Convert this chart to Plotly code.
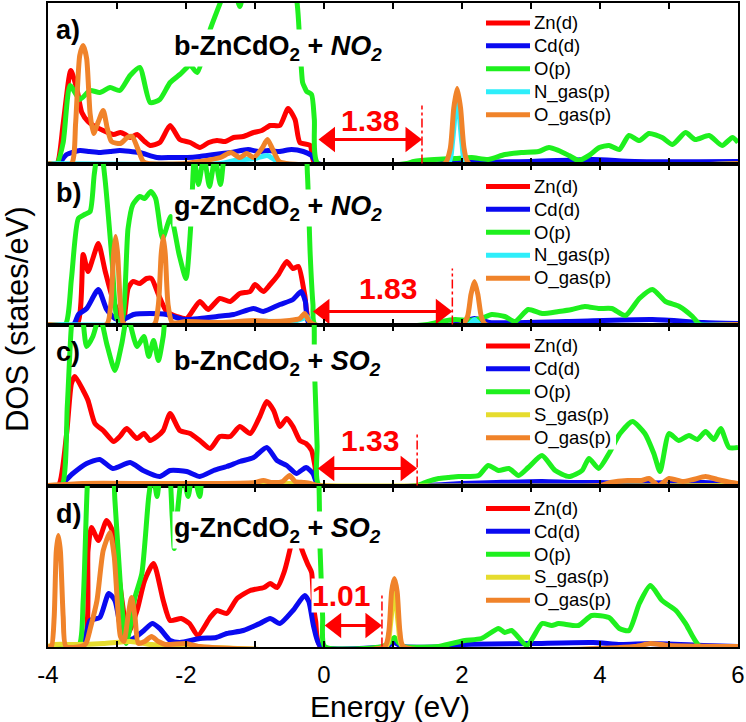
import plotly.graph_objects as go
from plotly.subplots import make_subplots

FONT = "Arial, Liberation Sans, sans-serif"

# ---------------- data (energy in eV, DOS in arbitrary units) ----------------
ENERGY_RANGE = [-4, 6]
TICK_VALUES = [-4, -2, 0, 2, 4, 6]
TICK_TEXT = ["-4", "-2", "0", "2", "4", "6"]

PANEL_LABELS = ["a)", "b)", "c)", "d)"]
PANEL_TITLES = [
    "b-ZnCdO<sub>2</sub> + <i>NO<sub>2</sub></i>",
    "g-ZnCdO<sub>2</sub> + <i>NO<sub>2</sub></i>",
    "b-ZnCdO<sub>2</sub> + <i>SO<sub>2</sub></i>",
    "g-ZnCdO<sub>2</sub> + <i>SO<sub>2</sub></i>",
]
GAP_VALUES = [1.38, 1.83, 1.33, 1.01]
GAP_START = [-0.08, -0.16, -0.09, 0.01]
GAP_END = [1.42, 1.86, 1.35, 0.84]

SERIES_NAMES_NO2 = ["Zn(d)", "Cd(d)", "O(p)", "N_gas(p)", "O_gas(p)"]
SERIES_NAMES_SO2 = ["Zn(d)", "Cd(d)", "O(p)", "S_gas(p)", "O_gas(p)"]

# panel a : b-ZnCdO2 + NO2
a_zn = [[-4.0,0],[-3.87,0],[-3.78,40],[-3.67,93],[-3.58,74],[-3.51,51],[-3.42,42],[-3.34,38],[-3.2,33],[-3.05,29],[-2.95,31],[-2.88,29],[-2.81,26],[-2.71,29],[-2.6,22],[-2.52,18],[-2.38,21],[-2.23,38],[-2.09,24],[-1.94,21],[-1.8,16],[-1.67,21],[-1.55,23],[-1.43,22],[-1.31,26],[-1.17,27],[-1.02,31],[-0.9,33],[-0.78,38],[-0.64,38],[-0.52,55],[-0.42,44],[-0.35,21],[-0.2,18],[-0.13,0],[6.0,0]]
a_cd = [[-4.0,0],[-3.85,0],[-3.73,9],[-3.54,13],[-3.4,12],[-3.25,11],[-3.1,12],[-2.96,13],[-2.8,12],[-2.67,11],[-2.42,6],[-2.2,6],[-1.98,6],[-1.8,7],[-1.59,9],[-1.35,11],[-1.1,14],[-0.95,12],[-0.81,13],[-0.65,12],[-0.47,14],[-0.3,12],[-0.18,8],[-0.09,0],[1.7,0],[1.93,4],[2.1,2],[3.0,2],[3.9,4],[4.5,2],[6.0,2]]
a_o = [[-4.0,0],[-3.87,0],[-3.78,21],[-3.68,78],[-3.54,64],[-3.39,73],[-3.25,71],[-3.1,76],[-2.96,73],[-2.81,88],[-2.67,96],[-2.52,61],[-2.38,64],[-2.23,81],[-2.09,89],[-1.94,98],[-1.84,91],[-1.65,134],[-1.48,165],[-1.38,185],[-1.28,170],[-1.22,157],[-1.15,175],[-0.95,200],[-0.7,195],[-0.5,180],[-0.4,165],[-0.35,120],[-0.31,81],[-0.28,76],[-0.25,72],[-0.18,69],[-0.14,44],[-0.09,0],[1.2,0],[1.3,2],[1.6,4],[1.9,5],[2.14,6],[2.38,4],[2.62,9],[2.86,11],[3.11,12],[3.26,16],[3.4,13],[3.55,8],[3.69,3],[3.84,8],[3.99,16],[4.13,18],[4.28,14],[4.42,28],[4.57,23],[4.71,30],[4.9,26],[5.05,19],[5.24,31],[5.38,24],[5.58,28],[5.77,18],[5.92,26],[6.0,21]]
a_gas = [[-4.0,0],[-1.5,0],[-1.3,3],[-1.0,5],[-0.82,8],[-0.7,3],[-0.6,0],[1.8,0],[1.86,20],[1.93,68],[2.0,20],[2.06,0],[6.0,0]]
a_og = [[-4.0,0],[-3.66,0],[-3.6,40],[-3.54,108],[-3.49,118],[-3.44,105],[-3.39,50],[-3.34,30],[-3.27,42],[-3.2,53],[-3.14,35],[-3.08,22],[-2.95,20],[-2.85,26],[-2.78,27],[-2.7,15],[-2.62,2],[-2.55,0],[-2.0,0],[-1.8,2],[-1.5,6],[-1.35,11],[-1.22,6],[-1.12,10],[-1.02,6],[-0.9,15],[-0.82,24],[-0.75,15],[-0.65,2],[-0.55,0],[1.75,0],[1.83,15],[1.88,55],[1.93,75],[1.98,55],[2.03,15],[2.1,0],[6.0,0]]

# panel b : g-ZnCdO2 + NO2
b_zn = [[-4.0,0],[-3.58,0],[-3.49,70],[-3.42,53],[-3.35,66],[-3.27,81],[-3.17,53],[-3.05,23],[-2.91,3],[-2.84,36],[-2.77,43],[-2.67,41],[-2.57,46],[-2.5,46],[-2.4,30],[-2.28,13],[-2.13,8],[-1.99,6],[-1.8,23],[-1.68,15],[-1.51,26],[-1.36,23],[-1.22,31],[-1.07,33],[-1.0,40],[-0.88,33],[-0.78,40],[-0.66,50],[-0.54,63],[-0.45,56],[-0.37,58],[-0.28,30],[-0.18,0],[6.0,0]]
b_cd = [[-4.0,0],[-3.63,0],[-3.56,10],[-3.44,16],[-3.27,35],[-3.15,15],[-3.03,6],[-2.91,5],[-2.76,10],[-2.52,11],[-2.28,10],[-2.03,5],[-1.8,6],[-1.55,8],[-1.31,10],[-1.02,16],[-0.88,13],[-0.64,20],[-0.45,25],[-0.33,33],[-0.27,23],[-0.21,0],[1.9,0],[2.18,6],[2.4,2],[3.5,3],[4.76,5],[5.5,2],[6.0,1]]
b_o = [[-4.0,0],[-3.75,0],[-3.66,46],[-3.56,106],[-3.47,110],[-3.39,113],[-3.33,150],[-3.25,185],[-3.17,143],[-3.07,63],[-3.0,6],[-2.93,3],[-2.84,96],[-2.77,120],[-2.67,128],[-2.6,126],[-2.51,133],[-2.44,126],[-2.34,86],[-2.22,108],[-2.1,70],[-2.0,46],[-1.93,100],[-1.88,165],[-1.82,140],[-1.74,168],[-1.66,138],[-1.58,166],[-1.5,140],[-1.4,185],[-1.0,210],[-0.6,210],[-0.3,200],[-0.24,150],[-0.2,70],[-0.16,20],[-0.13,0],[1.5,0],[1.7,3],[1.9,5],[2.1,4],[2.28,6],[2.43,10],[2.62,8],[2.77,3],[2.96,15],[3.16,11],[3.4,13],[3.59,15],[3.78,18],[3.98,16],[4.17,16],[4.37,9],[4.57,26],[4.76,35],[4.95,23],[5.15,18],[5.34,8],[5.45,0],[6.0,0]]
b_gas = [[-4.0,0],[-1.2,0],[-1.0,3],[-0.7,3],[-0.5,2],[-0.3,6],[-0.24,8],[-0.18,0],[2.1,0],[2.18,5],[2.26,0],[6.0,0]]
b_og = [[-4.0,0],[-3.15,0],[-3.09,20],[-3.05,70],[-3.02,88],[-2.99,70],[-2.95,20],[-2.9,0],[-2.46,0],[-2.4,20],[-2.36,70],[-2.33,88],[-2.3,70],[-2.26,20],[-2.2,2],[-2.0,3],[-1.5,2],[-1.0,4],[-0.8,3],[-0.5,4],[-0.35,6],[-0.28,11],[-0.22,4],[-0.15,0],[2.0,0],[2.08,8],[2.13,30],[2.18,43],[2.23,30],[2.28,8],[2.34,0],[6.0,0]]

# panel c : b-ZnCdO2 + SO2
c_zn = [[-4.0,0],[-3.85,0],[-3.73,52],[-3.66,102],[-3.61,109],[-3.49,95],[-3.42,85],[-3.32,62],[-3.2,55],[-3.05,44],[-2.96,49],[-2.86,57],[-2.71,47],[-2.61,52],[-2.52,45],[-2.42,49],[-2.33,55],[-2.23,72],[-2.09,55],[-1.94,52],[-1.8,45],[-1.65,37],[-1.51,49],[-1.36,49],[-1.22,59],[-1.07,52],[-0.93,69],[-0.83,84],[-0.73,75],[-0.64,59],[-0.54,67],[-0.45,59],[-0.35,45],[-0.26,42],[-0.18,35],[-0.13,19],[-0.08,0],[6.0,0]]
c_cd = [[-4.0,0],[-3.83,0],[-3.64,12],[-3.44,22],[-3.25,26],[-3.06,17],[-2.81,23],[-2.62,15],[-2.38,9],[-2.23,15],[-1.99,14],[-1.8,9],[-1.6,15],[-1.41,19],[-1.22,24],[-1.02,28],[-0.83,38],[-0.68,25],[-0.54,20],[-0.4,12],[-0.26,18],[-0.16,12],[-0.08,0],[1.5,0],[2.0,2],[2.5,3],[3.16,4],[3.6,3],[4.0,3],[4.5,2],[5.0,3],[5.5,3],[6.0,1]]
c_o = [[-4.0,0],[-3.8,0],[-3.72,80],[-3.66,160],[-3.58,200],[-3.5,170],[-3.44,139],[-3.35,149],[-3.25,170],[-3.15,142],[-3.03,115],[-2.93,142],[-2.85,170],[-2.71,139],[-2.61,149],[-2.54,129],[-2.47,145],[-2.4,125],[-2.33,149],[-2.25,185],[-1.5,210],[-0.6,210],[-0.2,200],[-0.14,120],[-0.1,40],[-0.07,0],[1.35,0],[1.5,4],[1.66,7],[1.8,8],[1.95,9],[2.1,9],[2.24,10],[2.38,20],[2.53,15],[2.68,17],[2.82,10],[2.96,18],[3.16,30],[3.35,15],[3.55,9],[3.74,15],[3.84,27],[3.98,17],[4.13,32],[4.29,52],[4.47,64],[4.65,52],[4.78,32],[4.87,14],[5.0,52],[5.14,45],[5.29,50],[5.41,46],[5.53,54],[5.65,46],[5.75,57],[5.87,38],[6.0,38]]
c_gas = [[-4.0,0],[-3.0,1],[-1.0,1],[-0.5,2],[-0.1,0],[6.0,0]]
c_og = [[-4.0,0],[-3.5,2],[-2.5,2],[-1.5,2],[-1.0,3],[-0.88,5],[-0.75,3],[-0.6,4],[-0.5,10],[-0.42,4],[-0.3,3],[-0.2,2],[-0.1,0],[4.0,0],[4.15,3],[4.4,5],[4.6,5],[4.71,7],[4.85,0],[5.0,7],[5.2,4],[5.35,6],[5.53,9],[5.7,6],[5.9,3],[6.0,2]]

# panel d : g-ZnCdO2 + SO2
d_zn = [[-4.0,0],[-3.49,0],[-3.42,96],[-3.37,119],[-3.27,106],[-3.15,126],[-3.05,113],[-2.96,63],[-2.84,13],[-2.71,36],[-2.6,66],[-2.47,83],[-2.33,46],[-2.23,26],[-2.07,28],[-1.95,23],[-1.83,11],[-1.65,29],[-1.55,36],[-1.41,33],[-1.26,48],[-1.07,56],[-0.87,59],[-0.78,63],[-0.68,59],[-0.58,74],[-0.48,101],[-0.41,125],[-0.33,99],[-0.24,83],[-0.18,74],[-0.15,40],[-0.12,25],[-0.05,0],[6.0,0]]
d_cd = [[-4.0,0],[-3.54,0],[-3.46,9],[-3.39,26],[-3.25,29],[-3.12,53],[-3.03,46],[-2.96,23],[-2.88,6],[-2.76,8],[-2.61,16],[-2.49,23],[-2.38,18],[-2.23,6],[-2.09,4],[-1.8,8],[-1.56,9],[-1.41,13],[-1.17,16],[-0.93,23],[-0.78,28],[-0.64,23],[-0.45,36],[-0.28,51],[-0.22,45],[-0.15,20],[-0.05,0],[0.9,0],[1.02,4],[1.12,0],[1.8,0],[2.0,2],[3.0,3],[3.9,4],[4.3,2],[4.73,3],[5.5,1],[6.0,0]]
d_o = [[-4.0,0],[-3.56,0],[-3.49,46],[-3.43,161],[-3.38,200],[-3.1,200],[-3.03,146],[-2.95,60],[-2.87,3],[-2.81,19],[-2.74,49],[-2.64,73],[-2.54,150],[-2.48,175],[-2.42,150],[-2.36,175],[-2.26,180],[-2.2,130],[-2.17,98],[-2.13,130],[-2.05,175],[-1.97,150],[-1.9,175],[-1.8,150],[-1.7,200],[-1.0,220],[-0.3,210],[-0.12,200],[-0.06,103],[-0.02,30],[0.01,0],[0.85,0],[0.95,4],[1.02,9],[1.08,4],[1.15,0],[1.66,0],[1.85,3],[2.04,6],[2.28,8],[2.53,18],[2.62,14],[2.72,16],[2.94,1],[3.16,23],[3.3,21],[3.4,23],[3.69,21],[3.88,31],[4.13,29],[4.28,18],[4.42,16],[4.57,43],[4.73,61],[4.9,46],[5.1,36],[5.24,23],[5.45,0],[6.0,0]]
d_gas = [[-4.0,0],[-3.9,2],[-3.6,2],[-3.2,3],[-2.8,5],[-2.5,2],[-2.0,0],[0.9,0],[0.96,20],[1.02,58],[1.08,20],[1.14,0],[6.0,0]]
d_og = [[-4.0,0],[-3.95,0],[-3.91,30],[-3.88,95],[-3.85,111],[-3.82,95],[-3.78,30],[-3.74,0],[-3.52,0],[-3.45,3],[-3.38,20],[-3.29,46],[-3.2,96],[-3.1,114],[-3.04,90],[-3.0,50],[-2.95,10],[-2.9,5],[-2.84,30],[-2.79,49],[-2.74,30],[-2.69,3],[-2.6,5],[-2.5,10],[-2.4,5],[-2.3,2],[-2.0,3],[-1.8,0],[0.88,0],[0.94,15],[0.98,55],[1.02,68],[1.06,55],[1.1,15],[1.15,0],[4.5,0],[4.73,3],[5.0,1],[6.0,0]]

PANELS = [
    [a_zn, a_cd, a_o, a_gas, a_og],
    [b_zn, b_cd, b_o, b_gas, b_og],
    [c_zn, c_cd, c_o, c_gas, c_og],
    [d_zn, d_cd, d_o, d_gas, d_og],
]
PANEL_NAMES = [SERIES_NAMES_NO2, SERIES_NAMES_NO2, SERIES_NAMES_SO2, SERIES_NAMES_SO2]

# ---------------- styling ----------------
W, H = 746, 722
ML, MR, MT, MB = 48, 8, 1, 75
COLORS_NO2 = ["#FF0000", "#0A0AF0", "#1EF01E", "#2EEEFA", "#F0832A"]
COLORS_SO2 = ["#FF0000", "#0A0AF0", "#1EF01E", "#E6DC2E", "#F0832A"]
PANEL_COLORS = [COLORS_NO2, COLORS_NO2, COLORS_SO2, COLORS_SO2]
Y_RANGE = [-0.5, 160.5]
PX_PER_EV = (W - ML - MR) / (ENERGY_RANGE[1] - ENERGY_RANGE[0])
HEAD_SIZE = 22  # arrow-head marker size (px)

def px_to_paper_y(py):
    return (H - MB - py) / (H - MT - MB)

def px_to_paper_x(px):
    return (px - ML) / (W - ML - MR)

fig = make_subplots(rows=4, cols=1, shared_xaxes=True, vertical_spacing=0)

for i, (series, names, cols) in enumerate(zip(PANELS, PANEL_NAMES, PANEL_COLORS)):
    for s, nm, c in zip(series, names, cols):
        fig.add_trace(
            go.Scatter(
                x=[p[0] for p in s], y=[p[1] for p in s], mode="lines", name=nm,
                line=dict(color=c, width=5, shape="spline", smoothing=0.6),
                showlegend=False, hoverinfo="x+y+name",
            ),
            row=i + 1, col=1,
        )

annotations = []
shapes = []
label_py = [28, 192, 351, 514]
title_py = [46, 207, 362, 530]
gap_text_x = [0.667, 0.93, 0.667, 0.25]
gap_text_py = [119, 287, 440, 595]
arrow_h = [24, 13, 17, 21]
dash_top = [58, 56, 52, 53]
legend_row0 = [21, 185, 345, 508]
ROW_STEP = 23
head_off = (HEAD_SIZE / 2) / PX_PER_EV
for i in range(4):
    xr = "x" if i == 0 else f"x{i+1}"
    yr = "y" if i == 0 else f"y{i+1}"
    # double-headed gap arrow: shaft + triangle heads
    fig.add_trace(go.Scatter(
        x=[GAP_START[i] + head_off, GAP_END[i] - head_off], y=[arrow_h[i], arrow_h[i]],
        mode="lines+markers", line=dict(color="#FF0000", width=3),
        marker=dict(symbol=["triangle-left", "triangle-right"], size=HEAD_SIZE, color="#FF0000",
                    line=dict(width=0)),
        showlegend=False, hoverinfo="skip", cliponaxis=False,
    ), row=i + 1, col=1)
    annotations.append(dict(text=f"<b>{PANEL_LABELS[i]}</b>", xref="paper", yref="paper",
                            x=px_to_paper_x(54), y=px_to_paper_y(label_py[i]), xanchor="left", yanchor="middle",
                            showarrow=False, font=dict(family=FONT, size=27, color="black")))
    annotations.append(dict(text=f"<b>{PANEL_TITLES[i]}</b>", xref="paper", yref="paper",
                            x=px_to_paper_x(172), y=px_to_paper_y(title_py[i]), xanchor="left", yanchor="middle",
                            showarrow=False, bgcolor="white", font=dict(family=FONT, size=27, color="black")))
    annotations.append(dict(text=f"<b>{GAP_VALUES[i]:.2f}</b>", xref=xr, yref="paper",
                            x=gap_text_x[i], y=px_to_paper_y(gap_text_py[i]), xanchor="center", yanchor="middle",
                            showarrow=False, bgcolor="white", borderpad=0,
                            font=dict(family=FONT, size=30, color="#FF0000")))
    shapes.append(dict(type="line", xref=xr, yref=yr, x0=GAP_END[i], x1=GAP_END[i], y0=0, y1=dash_top[i],
                       line=dict(color="#FF0000", width=1.5, dash="dashdot")))
    # legend block for this panel (white box, line samples, labels)
    r0 = legend_row0[i]
    shapes.append(dict(type="rect", xref="paper", yref="paper", layer="above",
                       x0=px_to_paper_x(481), x1=px_to_paper_x(616),
                       y0=px_to_paper_y(r0 + 4 * ROW_STEP + 12), y1=px_to_paper_y(r0 - 12),
                       fillcolor="white", line=dict(width=0)))
    for k, (nm, c) in enumerate(zip(PANEL_NAMES[i], PANEL_COLORS[i])):
        ry = px_to_paper_y(r0 + k * ROW_STEP)
        shapes.append(dict(type="line", xref="paper", yref="paper", layer="above",
                           x0=px_to_paper_x(486), x1=px_to_paper_x(530), y0=ry, y1=ry,
                           line=dict(color=c, width=5)))
        annotations.append(dict(text=nm, xref="paper", yref="paper", x=px_to_paper_x(532), y=ry,
                                xanchor="left", yanchor="middle", showarrow=False,
                                font=dict(family=FONT, size=18.5, color="black")))

annotations.append(dict(text="Energy (eV)", xref="paper", yref="paper", x=px_to_paper_x(390),
                        y=px_to_paper_y(707), xanchor="center", yanchor="middle", showarrow=False,
                        font=dict(family=FONT, size=30, color="black")))
annotations.append(dict(text="DOS (states/eV)", xref="paper", yref="paper", x=px_to_paper_x(17),
                        y=px_to_paper_y(318), xanchor="center", yanchor="middle", showarrow=False,
                        textangle=-90, font=dict(family=FONT, size=31, color="black")))

fig.update_xaxes(range=ENERGY_RANGE, tickvals=TICK_VALUES, ticktext=TICK_TEXT, ticks="inside",
                 ticklen=6, tickwidth=1.5, tickcolor="black", showline=True, linecolor="black",
                 linewidth=2, mirror="ticks", showgrid=False, zeroline=False,
                 minor=dict(dtick=1, tick0=-4, ticks="inside", ticklen=6, tickwidth=1.5, tickcolor="black",
                            showgrid=False),
                 tickfont=dict(family=FONT, size=24, color="black"), ticklabelstandoff=5)
fig.update_yaxes(range=Y_RANGE, showticklabels=False, ticks="", showline=True, linecolor="black",
                 linewidth=2, mirror=True, showgrid=False, zeroline=False)

fig.update_layout(
    width=W, height=H, margin=dict(l=ML, r=MR, t=MT, b=MB),
    paper_bgcolor="white", plot_bgcolor="white",
    font=dict(family=FONT, color="black"),
    annotations=annotations, shapes=shapes, showlegend=False,
)

fig.write_html("out.html", config={"displayModeBar": False},
               post_script="document.body.style.margin='0px';")
